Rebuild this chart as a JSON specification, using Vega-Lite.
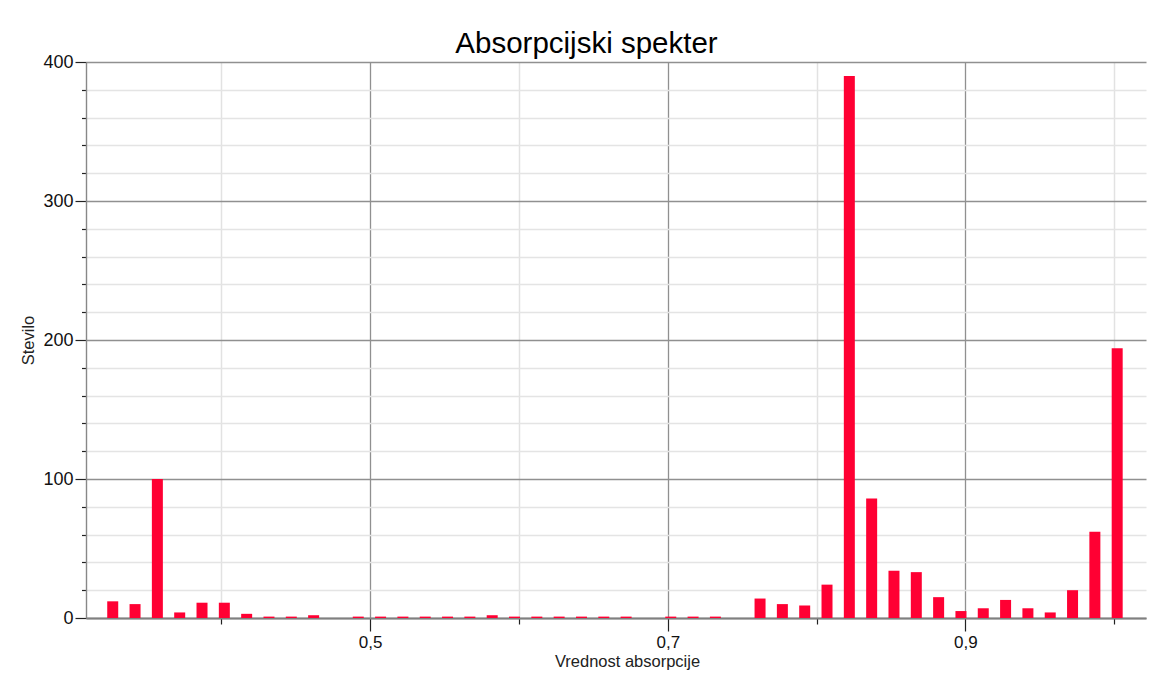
{
  "$schema": "https://vega.github.io/schema/vega-lite/v6.json",
  "autosize": {"type": "none"},
  "padding": {"left": 86, "top": 62, "right": 7, "bottom": 55},
  "width": 1060,
  "height": 556,
  "background": "#ffffff",
  "title": {
    "text": "Absorpcijski spekter",
    "font": "Liberation Sans",
    "fontSize": 29.5,
    "fontWeight": "normal",
    "color": "#000000",
    "anchor": "middle",
    "frame": "group",
    "dx": -29.5,
    "baseline": "alphabetic",
    "offset": -29
  },
  "data": {
    "values": [
      {"absorpcija": 0.327, "stevilo": 12},
      {"absorpcija": 0.342, "stevilo": 10},
      {"absorpcija": 0.357, "stevilo": 100},
      {"absorpcija": 0.372, "stevilo": 4},
      {"absorpcija": 0.387, "stevilo": 11},
      {"absorpcija": 0.402, "stevilo": 11},
      {"absorpcija": 0.417, "stevilo": 3},
      {"absorpcija": 0.432, "stevilo": 1},
      {"absorpcija": 0.447, "stevilo": 1},
      {"absorpcija": 0.462, "stevilo": 2},
      {"absorpcija": 0.477, "stevilo": 0},
      {"absorpcija": 0.492, "stevilo": 1},
      {"absorpcija": 0.507, "stevilo": 1},
      {"absorpcija": 0.522, "stevilo": 1},
      {"absorpcija": 0.537, "stevilo": 1},
      {"absorpcija": 0.552, "stevilo": 1},
      {"absorpcija": 0.567, "stevilo": 1},
      {"absorpcija": 0.582, "stevilo": 2},
      {"absorpcija": 0.597, "stevilo": 1},
      {"absorpcija": 0.612, "stevilo": 1},
      {"absorpcija": 0.627, "stevilo": 1},
      {"absorpcija": 0.642, "stevilo": 1},
      {"absorpcija": 0.657, "stevilo": 1},
      {"absorpcija": 0.672, "stevilo": 1},
      {"absorpcija": 0.687, "stevilo": 0},
      {"absorpcija": 0.702, "stevilo": 1},
      {"absorpcija": 0.717, "stevilo": 1},
      {"absorpcija": 0.732, "stevilo": 1},
      {"absorpcija": 0.747, "stevilo": 0},
      {"absorpcija": 0.762, "stevilo": 14},
      {"absorpcija": 0.777, "stevilo": 10},
      {"absorpcija": 0.792, "stevilo": 9},
      {"absorpcija": 0.807, "stevilo": 24},
      {"absorpcija": 0.822, "stevilo": 390},
      {"absorpcija": 0.837, "stevilo": 86},
      {"absorpcija": 0.852, "stevilo": 34},
      {"absorpcija": 0.867, "stevilo": 33},
      {"absorpcija": 0.882, "stevilo": 15},
      {"absorpcija": 0.897, "stevilo": 5},
      {"absorpcija": 0.912, "stevilo": 7},
      {"absorpcija": 0.927, "stevilo": 13},
      {"absorpcija": 0.942, "stevilo": 7},
      {"absorpcija": 0.957, "stevilo": 4},
      {"absorpcija": 0.972, "stevilo": 20},
      {"absorpcija": 0.987, "stevilo": 62},
      {"absorpcija": 1.002, "stevilo": 194}
    ]
  },
  "layer": [
    {
      "mark": {"type": "bar", "width": 11, "color": "#ff0033", "opacity": 0},
      "encoding": {
        "x": {
          "field": "absorpcija",
          "type": "quantitative",
          "scale": {"domain": [0.3124, 1.018], "nice": false, "zero": false},
          "axis": {
            "orient": "bottom",
            "values": [0.4, 0.6, 0.8, 1.0],
            "labels": false,
            "title": null,
            "domain": false,
            "grid": true,
            "gridColor": "#e2e2e2",
            "gridWidth": 1.5,
            "ticks": true,
            "tickSize": 6,
            "tickColor": "#222222",
            "tickWidth": 1.2,
            "zindex": 0
          }
        },
        "y": {
          "field": "stevilo",
          "type": "quantitative",
          "scale": {"domain": [0, 400], "nice": false},
          "axis": {
            "orient": "left",
            "values": [20, 40, 60, 80, 120, 140, 160, 180, 220, 240, 260, 280, 320, 340, 360, 380],
            "labels": false,
            "title": null,
            "domain": false,
            "grid": true,
            "gridColor": "#e4e4e4",
            "gridWidth": 1.5,
            "ticks": true,
            "tickSize": 4.5,
            "tickColor": "#222222",
            "tickWidth": 1.2,
            "zindex": 0
          }
        }
      }
    },
    {
      "mark": {"type": "bar", "width": 11, "color": "#ff0033"},
      "encoding": {
        "x": {
          "field": "absorpcija",
          "type": "quantitative",
          "axis": {
            "orient": "bottom",
            "values": [0.5, 0.7, 0.9],
            "format": ".1f",
            "labelExpr": "replace(datum.label, '.', ',')",
            "labelFont": "Liberation Sans Narrow, Liberation Sans, Arial",
            "labelFontSize": 17,
            "labelColor": "#111111",
            "labelPadding": 3,
            "title": "Vrednost absorpcije",
            "titleFont": "Liberation Sans",
            "titleFontSize": 16.5,
            "titleFontWeight": "normal",
            "titleColor": "#222222",
            "titlePadding": 3,
            "titleX": 541,
            "domain": true,
            "domainColor": "#808080",
            "domainWidth": 2,
            "grid": true,
            "gridColor": "#909090",
            "gridWidth": 1.3,
            "ticks": true,
            "tickSize": 13,
            "tickColor": "#222222",
            "tickWidth": 1.2,
            "zindex": 0
          }
        },
        "y": {
          "field": "stevilo",
          "type": "quantitative",
          "axis": {
            "orient": "left",
            "values": [0, 100, 200, 300, 400],
            "labelFont": "Liberation Sans Narrow, Liberation Sans, Arial",
            "labelFontSize": 18,
            "labelColor": "#111111",
            "labelPadding": 2,
            "title": "Stevilo",
            "titleFont": "Liberation Sans",
            "titleFontSize": 16.5,
            "titleFontWeight": "normal",
            "titleColor": "#222222",
            "titlePadding": 6,
            "domain": true,
            "domainColor": "#888888",
            "domainWidth": 1.4,
            "grid": true,
            "gridColor": "#909090",
            "gridWidth": 1.3,
            "ticks": true,
            "tickSize": 11,
            "tickColor": "#222222",
            "tickWidth": 1.2,
            "zindex": 0
          }
        }
      }
    }
  ],
  "resolve": {"axis": {"x": "independent", "y": "independent"}},
  "config": {
    "view": {"stroke": null}
  }
}
